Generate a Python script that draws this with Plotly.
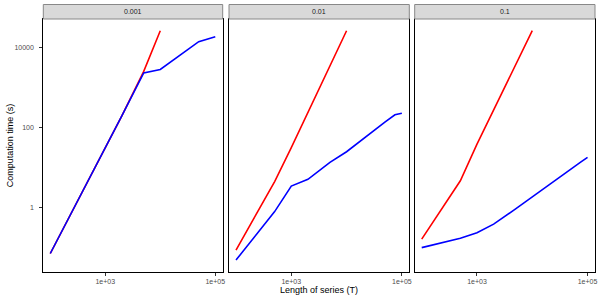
import plotly.graph_objects as go

panels = ["0.001", "0.01", "0.1"]
T_red = [100, 500, 1000, 2000, 5000, 10000]
T_blue = [100, 500, 1000, 2000, 5000, 10000, 50000, 75000, 100000]

red_vals = {
    "0.001": [0.07, 4.7, 29, 193, 2500, 26000],
    "0.01": [0.085, 4.4, 31, 236, 3450, 26000],
    "0.1": [0.16, 4.6, 38, 272, 3630, 26000],
}
blue_vals = {
    "0.001": [0.07, 4.7, 29, 193, 2300, 2800, 13800, 16200, 18400],
    "0.01": [0.048, 0.78, 3.4, 5.0, 13.3, 24.5, 136, 205, 225],
    "0.1": [0.098, 0.168, 0.23, 0.38, 0.91, 1.84, 9.0, 13.4, 17.8],
}

x_tickvals = [1000, 100000]
x_ticktext = ["1e+03", "1e+05"]
y_tickvals = [1, 100, 10000]
y_ticktext = ["1", "100", "10000"]

W, H = 600, 300
x_doms_px = [(43.3, 222.7), (229.0, 409.3), (414.7, 595.0)]
y_top_px, y_bot_px = 19.0, 271.7
strip_top_px = 4.5

FONT = "Liberation Sans, Arial, sans-serif"

fig = go.Figure()
layout_axes = {}
for i, p in enumerate(panels):
    n = "" if i == 0 else str(i + 1)
    xa, ya = "x" + n, "y" + n
    fig.add_trace(go.Scatter(x=T_red, y=red_vals[p], mode="lines",
                             line=dict(color="#FF0000", width=1.6),
                             xaxis=xa, yaxis=ya, showlegend=False))
    fig.add_trace(go.Scatter(x=T_blue, y=blue_vals[p], mode="lines",
                             line=dict(color="#0000FF", width=1.6),
                             xaxis=xa, yaxis=ya, showlegend=False))
    x0, x1 = x_doms_px[i]
    dom_x = [x0 / W, x1 / W]
    dom_y = [1 - y_bot_px / H, 1 - y_top_px / H]
    layout_axes["xaxis" + n] = dict(
        type="log", range=[1.873, 5.135], domain=dom_x, anchor=ya,
        tickvals=x_tickvals, ticktext=x_ticktext, ticks="outside", ticklen=3,
        tickcolor="#333333", tickfont=dict(size=7, color="#4D4D4D", family=FONT),
        showline=True, linecolor="#000000", linewidth=1, mirror=True,
        showgrid=False, zeroline=False, automargin=False,
    )
    layout_axes["yaxis" + n] = dict(
        type="log", range=[-1.61, 4.708], domain=dom_y, anchor=xa,
        tickvals=y_tickvals, ticktext=y_ticktext,
        ticks="outside" if i == 0 else "", ticklen=3, tickcolor="#333333",
        showticklabels=(i == 0), ticklabelstandoff=4,
        tickfont=dict(size=7, color="#4D4D4D", family=FONT),
        showline=True, linecolor="#000000", linewidth=1, mirror=True,
        showgrid=False, zeroline=False, automargin=False,
    )
    fig.add_shape(type="rect", xref="paper", yref="paper",
                  x0=x0 / W, x1=x1 / W,
                  y0=1 - y_top_px / H, y1=1 - strip_top_px / H,
                  fillcolor="#D9D9D9", line=dict(color="#888888", width=1))
    fig.add_annotation(text=p, xref="paper", yref="paper",
                       x=(x0 + x1) / 2 / W, y=1 - (y_top_px + strip_top_px) / 2 / H,
                       showarrow=False, xanchor="center", yanchor="middle",
                       font=dict(size=7, color="#1A1A1A", family=FONT))

fig.add_annotation(text="Length of series (T)", xref="paper", yref="paper",
                   x=(43.3 + 595.0) / 2 / W, y=1 - 289.5 / H, showarrow=False,
                   xanchor="center", yanchor="middle",
                   font=dict(size=9, color="#000000", family=FONT))
fig.add_annotation(text="Computation time (s)", xref="paper", yref="paper",
                   x=10 / W, y=1 - 145.3 / H, showarrow=False, textangle=-90,
                   xanchor="center", yanchor="middle",
                   font=dict(size=9, color="#000000", family=FONT))

fig.update_layout(width=W, height=H, margin=dict(l=0, r=0, t=0, b=0),
                  paper_bgcolor="white", plot_bgcolor="white",
                  showlegend=False, **layout_axes)
fig.write_html("out.html", config={"displayModeBar": False},
               post_script="document.body.style.margin='0';document.body.style.padding='0';")
